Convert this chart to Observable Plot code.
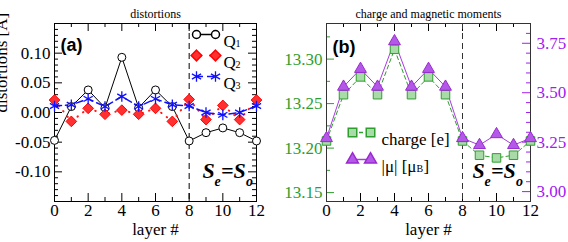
<!DOCTYPE html>
<html><head><meta charset="utf-8">
<script src="https://cdn.jsdelivr.net/npm/d3@7"></script>
<script src="https://cdn.jsdelivr.net/npm/@observablehq/plot@0.6"></script>
<style>
body{margin:0;background:#fff;}
#wrap{display:flex;width:568px;height:242px;overflow:hidden;background:#fff;}
#wrap svg{display:block;overflow:visible;}
</style></head><body><div id="wrap"></div>
<script>
// ---------- data ----------
const layers = [0,1,2,3,4,5,6,7,8,9,10,11,12];
const q1 = [-0.047, 0.010, 0.038, 0.008, 0.093, 0.008, 0.038, 0.010, -0.048, -0.034, -0.026, -0.034, -0.048];
const q2 = [0.021, -0.015, 0.007, -0.003, 0.004, -0.003, 0.007, -0.015, 0.022, -0.012, 0.012, -0.012, 0.021];
const q3 = [0.011, 0.013, 0.023, 0.010, 0.027, 0.010, 0.023, 0.013, 0.011, 0.000, -0.004, 0.000, 0.011];
const charge = [13.208, 13.260, 13.280, 13.260, 13.311, 13.260, 13.280, 13.260, 13.208, 13.192, 13.189, 13.192, 13.208];
const mu = [3.27, 3.53, 3.62, 3.53, 3.76, 3.53, 3.62, 3.53, 3.27, 3.235, 3.29, 3.235, 3.27];
const boundary = [8];

const xMajor = [0,2,4,6,8,10,12];
const xMinor = [1,3,5,7,9,11];
const distMajor = [-0.10,-0.05,0.00,0.05,0.10];
const distMinor = [-0.14,-0.13,-0.12,-0.11,-0.09,-0.08,-0.07,-0.06,-0.04,-0.03,-0.02,-0.01,0.01,0.02,0.03,0.04,0.06,0.07,0.08,0.09,0.11,0.12,0.13,0.14];
const chargeMajor = [13.15,13.20,13.25,13.30];
const chargeMinor = [13.175,13.225,13.275,13.325];
const muMajor = [3.00,3.25,3.50,3.75];
const muMinor = [2.95,3.05,3.10,3.15,3.20,3.30,3.35,3.40,3.45,3.55,3.60,3.65,3.70,3.80,3.85];

const distDomain = [-0.15, 0.15];
const chargeDomain = [13.14, 13.34];
const muDomain = [2.95, 3.85];

// ---------- styles ----------
const serif = "Liberation Serif, Times New Roman, serif";
const sans = "Liberation Sans, Arial, sans-serif";
const svgStyle = "font-family: 'Liberation Serif', 'Times New Roman', serif; background: white; color: black; overflow: visible;";
const GREEN = "#2e9e2e", PURPLE = "#a020f0";
const H = 242, MT = 23, MB = 41, FH = H - MT - MB;
const TFS = 17;

const distRows = layers.map((l,i)=>({layer:l, q1:q1[i], q2:q2[i], q3:q3[i]}));
const muToY = d3.scaleLinear().domain(muDomain).range(chargeDomain);
const momRows = layers.map((l,i)=>({layer:l, charge:charge[i], mu:mu[i], muY:muToY(mu[i])}));

const seg = (len) => ({draw(ctx){ ctx.moveTo(-len/2,0); ctx.lineTo(len/2,0); }});

function frameTicks(fw, yMaj, yMin, leftColor, rightColor, rightMaj, rightMin) {
  return [
    Plot.tickY(yMaj,{y:d=>d, insetRight: fw-8, stroke:leftColor}),
    Plot.tickY(yMin,{y:d=>d, insetRight: fw-4, stroke:leftColor}),
    Plot.tickY(rightMaj,{y:d=>d, insetLeft: fw-8, stroke:rightColor}),
    Plot.tickY(rightMin,{y:d=>d, insetLeft: fw-4, stroke:rightColor}),
    Plot.tickX(xMajor,{x:d=>d, insetTop: FH-8}),
    Plot.tickX(xMinor,{x:d=>d, insetTop: FH-4}),
    Plot.tickX(xMajor,{x:d=>d, insetBottom: FH-8}),
    Plot.tickX(xMinor,{x:d=>d, insetBottom: FH-4})
  ];
}

function seEqSo(dx0) {
  const pieces = [
    {t:"S", dx:0, dy:0, fs:22},
    {t:"e", dx:12, dy:8, fs:14},
    {t:"=", dx:18.5, dy:0, fs:22},
    {t:"S", dx:31, dy:0, fs:22},
    {t:"o", dx:43.5, dy:8, fs:14}
  ];
  return pieces.map(p => Plot.text([p.t], {text:d=>d, frameAnchor:"bottom-right", dx:dx0+p.dx, dy:-24+p.dy,
    textAnchor:"start", fontSize:p.fs, fontWeight:"bold", fontStyle:"italic", fontFamily:serif, fill:"black"}));
}

// ---------- left panel ----------
const ML1 = 54, MR1 = 28, FW1 = 284 - ML1 - MR1;
const left = Plot.plot({
  width:284, height:H, marginLeft:ML1, marginRight:MR1, marginTop:MT, marginBottom:MB,
  x:{domain:[0,12]}, y:{domain:distDomain},
  style: svgStyle,
  marks:[
    ...frameTicks(FW1, distMajor, distMinor, "black", "black", distMajor, distMinor),
    Plot.frame({stroke:"black"}),
    Plot.ruleX(boundary,{x:d=>d, stroke:"black", strokeDasharray:"6,4"}),
    Plot.axisX({ticks:xMajor, tickSize:0, tickPadding:2, tickFormat:d=>String(d), fontSize:TFS, fontFamily:serif, label:null}),
    Plot.axisY({ticks:distMajor, tickSize:0, tickPadding:4, tickFormat:d=>d.toFixed(2), fontSize:TFS, fontFamily:serif, label:null}),
    Plot.line(distRows,{x:"layer", y:"q1", stroke:"black", strokeWidth:1}),
    Plot.line(distRows,{x:"layer", y:"q2", stroke:"#ff1a1a", strokeWidth:2, strokeDasharray:"0.5,6.5", strokeLinecap:"round"}),
    Plot.line(distRows,{x:"layer", y:"q3", stroke:"#1010ff", strokeWidth:1.5, strokeDasharray:"7,4"}),
    Plot.dot(distRows,{x:"layer", y:"q1", r:4, stroke:"black", fill:"white", strokeWidth:1}),
    Plot.dot(distRows,{x:"layer", y:"q2", symbol:"diamond2", r:4.8, fill:"#ff3030", stroke:"#ff0000", strokeWidth:1}),
    Plot.dot(distRows,{x:"layer", y:"q3", symbol:"asterisk", r:5, stroke:"#1010ff", strokeWidth:1.3}),
    // titles & labels
    Plot.text(["distortions"],{text:d=>d, frameAnchor:"top", dy:-14, fontSize:12, fontFamily:serif}),
    Plot.text(["layer #"],{text:d=>d, frameAnchor:"bottom", dy:33, fontSize:TFS, fontFamily:serif}),
    Plot.text(["distortions [Å]"],{text:d=>d, frameAnchor:"left", dx:-53, rotate:-90, fontSize:TFS, fontFamily:serif}),
    Plot.text(["(a)"],{text:d=>d, frameAnchor:"top-left", dx:6, dy:15, textAnchor:"start", fontSize:18, fontWeight:"bold", fontFamily:sans}),
    // legend
    Plot.dot([0],{frameAnchor:"top-right", dx:-51, dy:11, symbol:seg(19), stroke:"black", fill:"none"}),
    Plot.dot([0],{frameAnchor:"top-right", dx:-60, dy:11, r:4, stroke:"black", fill:"white"}),
    Plot.dot([0],{frameAnchor:"top-right", dx:-41, dy:11, r:4, stroke:"black", fill:"white"}),
    Plot.dot([0],{frameAnchor:"top-right", dx:-51, dy:32, symbol:seg(19), stroke:"#ff1a1a", strokeWidth:2, strokeDasharray:"0.5,9", strokeDashoffset:-4.5, strokeLinecap:"round", fill:"none"}),
    Plot.dot([0],{frameAnchor:"top-right", dx:-60, dy:32, symbol:"diamond2", r:4.8, fill:"#ff3030", stroke:"#ff0000"}),
    Plot.dot([0],{frameAnchor:"top-right", dx:-41, dy:32, symbol:"diamond2", r:4.8, fill:"#ff3030", stroke:"#ff0000"}),
    Plot.dot([0],{frameAnchor:"top-right", dx:-51, dy:53, symbol:seg(19), stroke:"#1010ff", strokeWidth:1.5, strokeDasharray:"7,4", fill:"none"}),
    Plot.dot([0],{frameAnchor:"top-right", dx:-60, dy:53, symbol:"asterisk", r:5, stroke:"#1010ff", strokeWidth:1.3}),
    Plot.dot([0],{frameAnchor:"top-right", dx:-41, dy:53, symbol:"asterisk", r:5, stroke:"#1010ff", strokeWidth:1.3}),
    ...[["Q","1",11],["Q","2",32],["Q","3",53]].flatMap(([a,b,dy]) => [
      Plot.text([a],{text:d=>d, frameAnchor:"top-right", dx:-33, dy:dy, textAnchor:"start", fontSize:17, fontFamily:serif}),
      Plot.text([b],{text:d=>d, frameAnchor:"top-right", dx:-21, dy:dy+5, textAnchor:"start", fontSize:10, fontFamily:serif})
    ]),
    ...seEqSo(-54)
  ]
});

// ---------- right panel ----------
const ML2 = 42, MR2 = 38, FW2 = 284 - ML2 - MR2;
const right = Plot.plot({
  width:284, height:H, marginLeft:ML2, marginRight:MR2, marginTop:MT, marginBottom:MB,
  x:{domain:[0,12]}, y:{domain:chargeDomain},
  style: svgStyle,
  marks:[
    ...frameTicks(FW2, chargeMajor, chargeMinor, GREEN, PURPLE, muMajor.map(muToY), muMinor.map(muToY)),
    Plot.frame({stroke:"#333"}),
    Plot.ruleX(boundary,{x:d=>d, stroke:"#333", strokeDasharray:"6,4"}),
    Plot.axisX({ticks:xMajor, tickSize:0, tickPadding:2, tickFormat:d=>String(d), fontSize:TFS, fontFamily:serif, label:null}),
    Plot.axisY({ticks:chargeMajor, tickSize:0, tickPadding:4, tickFormat:d=>d.toFixed(2), fontSize:TFS, fontFamily:serif, color:GREEN, label:null}),
    Plot.axisY({anchor:"right", ticks:muMajor.map(muToY), tickSize:0, tickPadding:6, tickFormat:v=>muToY.invert(v).toFixed(2), fontSize:TFS, fontFamily:serif, color:PURPLE, label:null}),
    Plot.line(momRows,{x:"layer", y:"charge", stroke:GREEN, strokeWidth:1, strokeDasharray:"4,3"}),
    Plot.line(momRows,{x:"layer", y:"muY", stroke:"#a63be0", strokeWidth:1}),
    Plot.dot(momRows,{x:"layer", y:"charge", symbol:"square", r:4.8, fill:"#a9dba9", stroke:GREEN, strokeWidth:1}),
    Plot.dot(momRows,{x:"layer", y:"muY", symbol:"triangle", r:4.4, fill:"#b458e8", stroke:"#9a28d0", strokeWidth:1}),
    Plot.text(["charge and magnetic moments"],{text:d=>d, frameAnchor:"top", dy:-14, fontSize:12, fontFamily:serif}),
    Plot.text(["layer #"],{text:d=>d, frameAnchor:"bottom", dy:33, fontSize:TFS, fontFamily:serif}),
    Plot.text(["(b)"],{text:d=>d, frameAnchor:"top-left", dx:6, dy:17, textAnchor:"start", fontSize:18, fontWeight:"bold", fontFamily:sans}),
    // legend
    Plot.dot([0],{frameAnchor:"top-left", dx:35, dy:109, symbol:seg(19), stroke:GREEN, strokeDasharray:"4,3", fill:"none"}),
    Plot.dot([0],{frameAnchor:"top-left", dx:26, dy:109, symbol:"square", r:4.8, fill:"#a9dba9", stroke:GREEN}),
    Plot.dot([0],{frameAnchor:"top-left", dx:44, dy:109, symbol:"square", r:4.8, fill:"#a9dba9", stroke:GREEN}),
    Plot.text(["charge [e]"],{text:d=>d, frameAnchor:"top-left", dx:55, dy:109, textAnchor:"start", fontSize:17, fontFamily:serif}),
    Plot.dot([0],{frameAnchor:"top-left", dx:35, dy:136, symbol:seg(19), stroke:"#a63be0", fill:"none"}),
    Plot.dot([0],{frameAnchor:"top-left", dx:26, dy:136, symbol:"triangle", r:4.4, fill:"#b458e8", stroke:"#9a28d0"}),
    Plot.dot([0],{frameAnchor:"top-left", dx:44, dy:136, symbol:"triangle", r:4.4, fill:"#b458e8", stroke:"#9a28d0"}),
    Plot.text(["|μ| [μ"],{text:d=>d, frameAnchor:"top-left", dx:55, dy:136, textAnchor:"start", fontSize:17, fontFamily:serif}),
    Plot.text(["B"],{text:d=>d, frameAnchor:"top-left", dx:90, dy:141, textAnchor:"start", fontSize:10, fontFamily:serif}),
    Plot.text(["]"],{text:d=>d, frameAnchor:"top-left", dx:97, dy:136, textAnchor:"start", fontSize:17, fontFamily:serif}),
    ...seEqSo(-58)
  ]
});

const wrap = document.getElementById("wrap");
wrap.appendChild(left);
wrap.appendChild(right);
</script>
</body></html>
